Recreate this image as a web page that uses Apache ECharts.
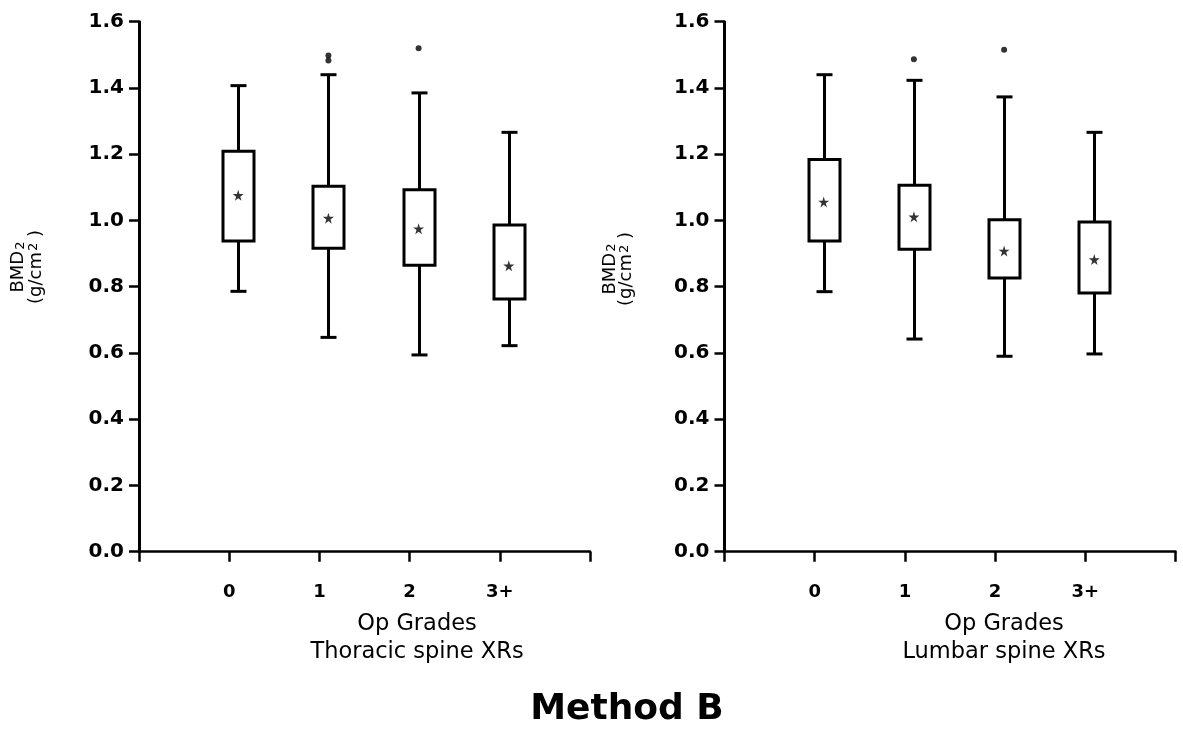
<!DOCTYPE html>
<html>
<head>
<meta charset="utf-8">
<script src="https://cdn.jsdelivr.net/npm/echarts@6/dist/echarts.min.js"></script>
<style>html,body{margin:0;padding:0;background:#fff}#c{width:1183px;height:733px}</style>
</head>
<body>
<div id="c"></div>
<script>
var categories = ['0', '1', '2', '3+'];
var yTicks = [0, 0.2, 0.4, 0.6, 0.8, 1.0, 1.2, 1.4, 1.6];

var thoracicLow  = [0.786, 0.647, 0.594, 0.622];
var thoracicQ1   = [0.938, 0.916, 0.865, 0.763];
var thoracicQ3   = [1.209, 1.103, 1.093, 0.986];
var thoracicHigh = [1.407, 1.440, 1.385, 1.266];
var thoracicMean = [1.076, 1.007, 0.975, 0.863];
var thoracicOutliers = [[1, 1.498], [1, 1.483], [2, 1.520]];

var lumbarLow  = [0.785, 0.642, 0.590, 0.597];
var lumbarQ1   = [0.938, 0.913, 0.826, 0.781];
var lumbarQ3   = [1.184, 1.106, 1.002, 0.995];
var lumbarHigh = [1.440, 1.423, 1.373, 1.266];
var lumbarMean = [1.056, 1.011, 0.908, 0.882];
var lumbarOutliers = [[1, 1.487], [2, 1.515]];

var FONT = '"DejaVu Sans", Verdana, sans-serif';
var OFF = 9; // box drawn slightly right of tick
var STAR = 'path://M50,0 L61,35 L98,35 L68,57 L79,91 L50,70 L21,91 L32,57 L2,35 L39,35 Z';

function boxData(low, q1, q3, high) {
  return categories.map(function (c, i) { return [i, low[i], q1[i], q3[i], high[i]]; });
}
function meanData(m) { return categories.map(function (c, i) { return [i, m[i]]; }); }

function renderBox(params, api) {
  var x = api.value(0);
  var pLow = api.coord([x, api.value(1)]);
  var pQ1 = api.coord([x, api.value(2)]);
  var pQ3 = api.coord([x, api.value(3)]);
  var pHigh = api.coord([x, api.value(4)]);
  var cx = Math.round(pLow[0] + OFF) + 0.5;
  var bw = 31, cw = 16;
  var st = { stroke: '#000', fill: 'none', lineWidth: 3 };
  return {
    type: 'group',
    children: [
      { type: 'line', shape: { x1: cx, y1: pHigh[1], x2: cx, y2: pQ3[1] }, style: st },
      { type: 'line', shape: { x1: cx, y1: pQ1[1], x2: cx, y2: pLow[1] }, style: st },
      { type: 'line', shape: { x1: cx - cw / 2, y1: pHigh[1], x2: cx + cw / 2, y2: pHigh[1] }, style: st },
      { type: 'line', shape: { x1: cx - cw / 2, y1: pLow[1], x2: cx + cw / 2, y2: pLow[1] }, style: st },
      { type: 'rect', shape: { x: cx - bw / 2, y: pQ3[1], width: bw, height: pQ1[1] - pQ3[1] }, style: { stroke: '#000', fill: '#fff', lineWidth: 3 } }
    ]
  };
}

function xAxisCfg(idx) {
  return {
    type: 'value', gridIndex: idx, min: -1, max: 4, interval: 1,
    axisLine: { onZero: false, lineStyle: { color: '#000', width: 2.5 } },
    axisTick: { show: true, length: 10, lineStyle: { color: '#000', width: 2.5 } },
    axisLabel: {
      margin: 32, color: '#000', fontSize: 18, fontWeight: 'bold', fontFamily: FONT,
      formatter: function (v) { return (v >= 0 && v < categories.length) ? categories[v] : ''; }
    },
    splitLine: { show: false }
  };
}
function yAxisCfg(idx) {
  return {
    type: 'value', gridIndex: idx, min: 0, max: 1.6, interval: 0.2,
    axisLine: { show: true, onZero: false, lineStyle: { color: '#000', width: 3 } },
    axisTick: { show: true, length: 10, lineStyle: { color: '#000', width: 2.5 } },
    axisLabel: {
      margin: 15, color: '#000', fontSize: 20, fontWeight: 'bold', fontFamily: FONT,
      formatter: function (v) { return v.toFixed(1); }
    },
    splitLine: { show: false }
  };
}

function seriesFor(idx, low, q1, q3, high, mean, outl) {
  return [
    { type: 'custom', xAxisIndex: idx, yAxisIndex: idx, renderItem: renderBox,
      data: boxData(low, q1, q3, high), encode: { x: 0, y: [1, 2, 3, 4] }, silent: true, z: 2 },
    { type: 'scatter', xAxisIndex: idx, yAxisIndex: idx, data: meanData(mean), symbol: STAR,
      symbolSize: 11, symbolOffset: [OFF, 0], itemStyle: { color: '#000' }, silent: true, z: 3 },
    { type: 'scatter', xAxisIndex: idx, yAxisIndex: idx, data: outl, symbol: 'circle',
      symbolSize: 6, symbolOffset: [OFF, 0], itemStyle: { color: '#000' }, silent: true, z: 3 }
  ];
}

function yName(x, y, gap) {
  return {
    type: 'text', x: x, y: y, rotation: Math.PI / 2,
    style: {
      text: '{a|BMD}{s|2}\n{a|(g/cm}{p|2}{a| )}',
      align: 'center', verticalAlign: 'middle', fill: '#000',
      rich: {
        a: { fontSize: 18, fontFamily: FONT, lineHeight: gap, fill: '#000' },
        s: { fontSize: 13, fontFamily: FONT, lineHeight: gap, verticalAlign: 'bottom', padding: [8, 0, 0, 1], fill: '#000' },
        p: { fontSize: 13, fontFamily: FONT, lineHeight: gap, verticalAlign: 'top', padding: [0, 0, 8, 1], fill: '#000' }
      }
    }
  };
}
function txt(x, y, s, size, weight, align) {
  return { type: 'text', x: x, y: y, style: { text: s, fontSize: size, fontWeight: weight, fontFamily: FONT,
    fill: '#000', align: align, verticalAlign: 'middle' } };
}

var chart = echarts.init(document.getElementById('c'), null, { renderer: 'canvas' });
chart.setOption({
  backgroundColor: '#fff',
  animation: false,
  grid: [
    { left: 139, top: 21.7, width: 451, height: 530, outerBoundsMode: 'none', containLabel: false },
    { left: 724.5, top: 21.7, width: 451, height: 530, outerBoundsMode: 'none', containLabel: false }
  ],
  xAxis: [xAxisCfg(0), xAxisCfg(1)],
  yAxis: [yAxisCfg(0), yAxisCfg(1)],
  series: [].concat(
    seriesFor(0, thoracicLow, thoracicQ1, thoracicQ3, thoracicHigh, thoracicMean, thoracicOutliers),
    seriesFor(1, lumbarLow, lumbarQ1, lumbarQ3, lumbarHigh, lumbarMean, lumbarOutliers)
  ),
  graphic: [
    yName(27, 267, 18),
    yName(618, 269, 16),
    txt(417, 624, 'Op Grades', 22.5, 'normal', 'center'),
    txt(417, 652, 'Thoracic spine XRs', 22.5, 'normal', 'center'),
    txt(1004, 624, 'Op Grades', 22.5, 'normal', 'center'),
    txt(1004, 652, 'Lumbar spine XRs', 22.5, 'normal', 'center'),
    txt(627, 710, 'Method B', 36, 'bold', 'center')
  ]
});
</script>
</body>
</html>
